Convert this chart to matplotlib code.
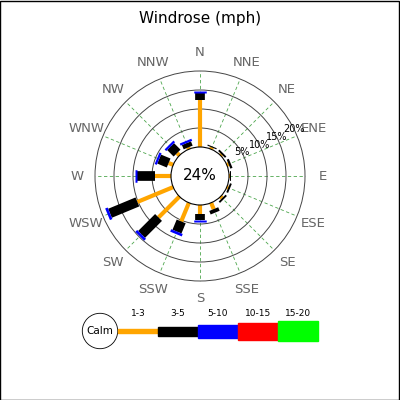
import numpy as np
import matplotlib
matplotlib.use("Agg")
import matplotlib.pyplot as plt
from matplotlib.patches import Circle, Rectangle

directions = ["N","NNE","NE","ENE","E","ESE","SE","SSE","S","SSW","SW","WSW","W","WNW","NW","NNW"]
spd_1_3  = [12.4, 0.5, 0.4, 0.5, 0.3, 0.4, 0.6, 1.8, 2.4, 5.3, 7.8, 10.2, 4.2, 1.3, 0.9, 0.5]
spd_3_5  = [1.8, 0.3, 0.5, 0.6, 0.2, 0.5, 0.5, 1.0, 1.6, 2.9, 6.3, 7.8, 4.7, 2.7, 2.4, 1.2]
spd_5_10 = [0.3, 0.0, 0.0, 0.0, 0.0, 0.0, 0.0, 0.0, 0.3, 0.4, 0.4, 0.4, 0.3, 0.3, 0.3, 0.3]
calm_pct = 24
rings = [5, 10, 15, 20]
legend_labels = ["1-3", "3-5", "5-10", "10-15", "15-20"]
legend_colors = ["orange", "black", "blue", "red", "#00ff00"]

fig = plt.figure(figsize=(4, 4), dpi=100)
ax = fig.add_axes([0, 0, 1, 1])
ax.set_xlim(0, 400); ax.set_ylim(400, 0); ax.axis("off")
fig.patches.append(Rectangle((0.001, 0.001), 0.997, 0.997, transform=fig.transFigure,
                             fill=False, edgecolor="black", lw=1))

cx, cy = 200, 176
r0 = 29.0
k = 19.0 / 5.0  # px per percent

def pt(ang_deg, pct):
    r = r0 + pct * k
    a = np.radians(ang_deg)
    return cx + r * np.sin(a), cy - r * np.cos(a)

for i, d in enumerate(directions):
    ang = i * 22.5
    x0, y0 = pt(ang, 0); x1, y1 = pt(ang, 20)
    ax.plot([x0, x1], [y0, y1], color="green", lw=0.6, ls=(0, (4, 3)), alpha=0.7, zorder=1)
    lx = cx + 123 * np.sin(np.radians(ang)); ly = cy - 123 * np.cos(np.radians(ang))
    ax.text(lx, ly, d, color="#666666", fontsize=9.5, ha="center", va="center")
for rv in rings:
    ax.add_patch(Circle((cx, cy), r0 + rv * k, fill=False, edgecolor="#444444", lw=0.7, zorder=1))
    x, y = pt(66, rv)
    ax.text(x - 2, y - 4, f"{rv}%", fontsize=7, ha="center", va="center", zorder=5)
ax.add_patch(Circle((cx, cy), r0, facecolor="white", edgecolor="black", lw=0.8, zorder=3))
ax.text(cx, cy, f"{calm_pct}%", fontsize=11, ha="center", va="center", zorder=4)

for i in range(len(directions)):
    ang = i * 22.5
    a = spd_1_3[i]; b = a + spd_3_5[i]; c = b + spd_5_10[i]
    for s, e, col, lw in [(0, a, "orange", 3), (a, b, "black", 7)]:
        if e > s:
            (x0, y0), (x1, y1) = pt(ang, s), pt(ang, e)
            ax.plot([x0, x1], [y0, y1], color=col, lw=lw, solid_capstyle="butt", zorder=2)
    if c > b:
        (x0, y0), (x1, y1) = pt(ang, b), pt(ang, c + 0.3)
        ax.plot([x0, x1], [y0, y1], color="blue", lw=9, solid_capstyle="butt", zorder=2)

fig.text(0.5, 0.955, "Windrose (mph)", ha="center", va="center", fontsize=11)

ax.add_patch(Circle((100, 331), 17.7, fill=False, edgecolor="black", lw=0.6))
ax.text(100, 331, "Calm", fontsize=7.5, ha="center", va="center")
heights = [4, 9, 13, 17, 20]
for j, (lab, col) in enumerate(zip(legend_labels, legend_colors)):
    x0 = 118 + 40 * j
    h = heights[j]
    ax.add_patch(Rectangle((x0, 331 - h / 2), 40, h, color=col))
    ax.text(x0 + 20, 314, lab, fontsize=6.5, ha="center", va="center")

fig.savefig("out.png", dpi=100)
